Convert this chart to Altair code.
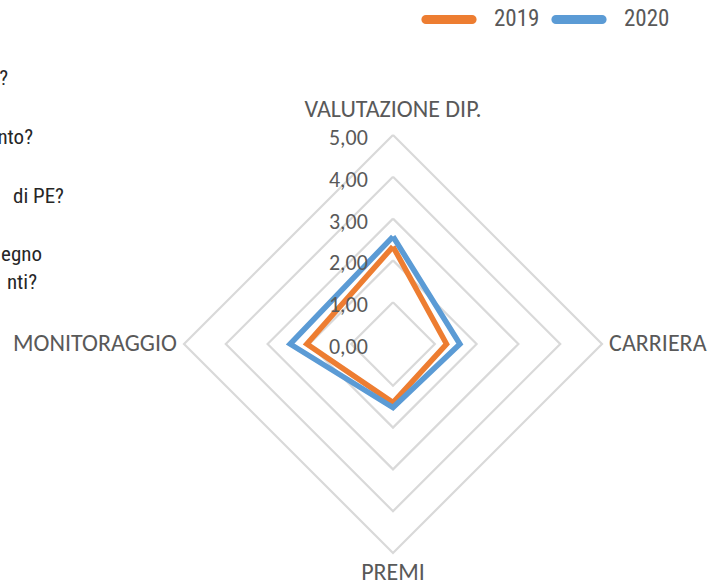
import altair as alt
import pandas as pd
import numpy as np

# ---- data ----
categories = ["VALUTAZIONE DIP.", "CARRIERA", "PREMI", "MONITORAGGIO"]
series_names = ["2019", "2020"]
values_2019 = [2.33, 1.28, 1.40, 2.06]
values_2020 = [2.57, 1.60, 1.52, 2.46]
grid_levels = [1, 2, 3, 4, 5]
tick_values = [0, 1, 2, 3, 4, 5]
tick_labels = ["0,00", "1,00", "2,00", "3,00", "4,00", "5,00"]
side_fragments = ["?", "nto?", " di PE?", "egno", "nti?"]

ORANGE = "#ED7D31"
BLUE = "#5B9BD5"
GRAY_TXT = "#595959"
AX_FONT = "Carlito, Liberation Sans, Open Sans"
COND_FONT = "Roboto Condensed, Liberation Sans Narrow, DejaVu Sans Condensed, Roboto"
CAPSULE = "M-0.87,-0.04 L0.87,-0.04 A0.04,0.04 0 0 1 0.87,0.04 L-0.87,0.04 A0.04,0.04 0 0 1 -0.87,-0.04 Z"

n = len(categories)
angles = [np.pi / 2 - i * 2 * np.pi / n for i in range(n)]

# series polygons (closed)
rows = []
for name, vals in zip(series_names, [values_2019, values_2020]):
    for k in range(n + 1):
        i = k % n
        rows.append({"serie": name, "order": k, "cat": categories[i],
                     "x": vals[i] * np.cos(angles[i]), "y": vals[i] * np.sin(angles[i])})
series_df = pd.DataFrame(rows)

# grid rings
grows = []
for lv in grid_levels:
    for k in range(n + 1):
        i = k % n
        grows.append({"level": lv, "order": k,
                      "x": lv * np.cos(angles[i]), "y": lv * np.sin(angles[i])})
grid_df = pd.DataFrame(grows)

# tick labels on the vertical axis
tick_df = pd.DataFrame({"v": tick_values, "label": tick_labels})
tick_df["x"] = -0.6
tick_df["y"] = tick_df["v"]

# category labels
lab_radius = [5.6, 5.17, 5.48, 5.17]
cat_df = pd.DataFrame({"cat": categories,
                       "x": [r * np.cos(a) for r, a in zip(lab_radius, angles)],
                       "y": [r * np.sin(a) for r, a in zip(lab_radius, angles)]})
cat_df["x"] = cat_df["x"].round(6)
cat_df["y"] = cat_df["y"].round(6)

xs = alt.Scale(domain=[-393 / 41.8, 317 / 41.8], nice=False, zero=False)
ys = alt.Scale(domain=[-(583 - 344) / 41.8, 344 / 41.8], nice=False, zero=False)
X = lambda: alt.X("x:Q", scale=xs, axis=None)
Y = lambda: alt.Y("y:Q", scale=ys, axis=None)

grid = alt.Chart(grid_df).mark_line(color="#D9D9D9", strokeWidth=2.2).encode(
    x=X(), y=Y(), detail="level:N", order="order:Q")

lines = alt.Chart(series_df).mark_line(strokeWidth=5.5, strokeJoin="miter").encode(
    x=X(), y=Y(), order="order:Q",
    color=alt.Color("serie:N",
                    scale=alt.Scale(domain=series_names, range=[ORANGE, BLUE]),
                    legend=alt.Legend(orient="none", legendX=419, legendY=-11,
                                      direction="horizontal", title=None,
                                      symbolType=CAPSULE, symbolStrokeWidth=7,
                                      symbolSize=2809, labelFontSize=23,
                                      labelFont=COND_FONT, labelColor=GRAY_TXT,
                                      labelOffset=15, columnPadding=0,
                                      padding=0)),
    detail="serie:N")

ticks = alt.Chart(tick_df).mark_text(align="right", baseline="middle", dy=3,
                                     fontSize=22, font=AX_FONT, color=GRAY_TXT).encode(
    x=X(), y=Y(), text="label:N")

top_bottom = alt.Chart(cat_df).transform_filter(
    alt.FieldOneOfPredicate(field="cat", oneOf=[categories[0], categories[2]])
).mark_text(align="center", baseline="middle", fontSize=24, font=AX_FONT,
            color=GRAY_TXT).encode(x=X(), y=Y(), text="cat:N")
right_lab = alt.Chart(cat_df).transform_filter(
    alt.FieldEqualPredicate(field="cat", equal=categories[1])
).mark_text(align="left", baseline="middle", fontSize=24, font=AX_FONT,
            color=GRAY_TXT).encode(x=X(), y=Y(), text="cat:N")
left_lab = alt.Chart(cat_df).transform_filter(
    alt.FieldEqualPredicate(field="cat", equal=categories[3])
).mark_text(align="right", baseline="middle", fontSize=24, font=AX_FONT,
            color=GRAY_TXT).encode(x=X(), y=Y(), text="cat:N")

# cut-off text fragments at the left edge
frag_pos = [(8, 79), (33, 138), (64, 197), (42, 255), (37, 283)]
frag_layers = []
for txt, (px, py) in zip(side_fragments, frag_pos):
    frag_layers.append(
        alt.Chart(pd.DataFrame({"t": [txt]})).mark_text(
            align="right", baseline="middle", fontSize=21, font=COND_FONT,
            color="#262626").encode(x=alt.value(px), y=alt.value(py), text="t:N"))

chart = alt.layer(grid, lines, ticks, top_bottom, right_lab, left_lab, *frag_layers).properties(
    width=710, height=583, padding=0, autosize="none"
).configure_view(stroke=None)

chart.save("out.html", embed_options={"renderer": "svg", "actions": False})
